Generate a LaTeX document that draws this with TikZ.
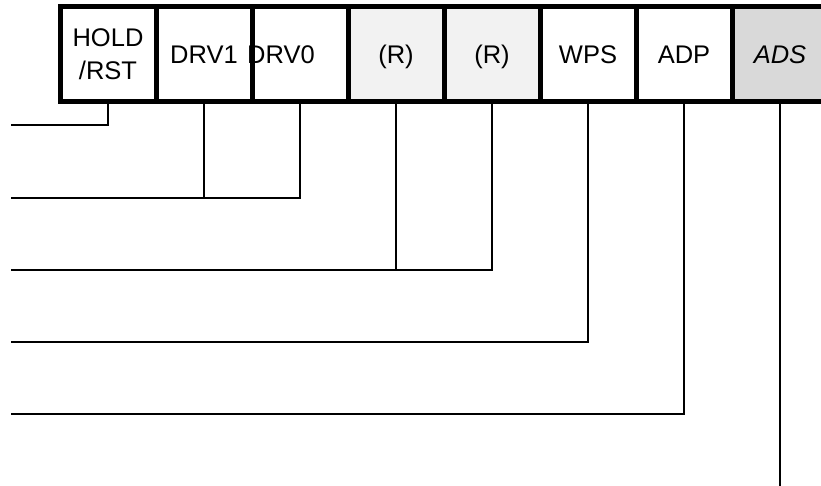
\documentclass[tikz,border=0pt]{standalone}
\usepackage{fontspec}
\setmainfont{Liberation Sans}
\definecolor{resgray}{HTML}{F2F2F2}
\definecolor{adsgray}{HTML}{D9D9D9}
\newcommand{\nodepth}[1]{\raisebox{0pt}[\height][0pt]{#1}}
\begin{document}
\begin{tikzpicture}[x=1pt,y=-1pt,
  field/.style={draw=black, line width=5pt, minimum width=96pt, minimum height=95pt,
    inner sep=0pt, font=\fontsize{25.5}{33}\selectfont, align=center, fill=white},
  res/.style={field, fill=resgray},
  ads/.style={field, fill=adsgray, font=\fontsize{25.5}{33}\selectfont\itshape},
  wire/.style={line width=2.7pt}]
\useasboundingbox (0,0) rectangle (821,486);
\clip (0,0) rectangle (821,486);
\node[field] (hold) at (108,54.5) {HOLD\\/RST};
\node[field] (drv1) at (204,54.5) {DRV1};
\node[field] (drv0) at (300,54.5) {\hspace*{-38pt}DRV0};
\node[res]   (r1)   at (396,54.5) {\nodepth{(R)}};
\node[res]   (r0)   at (492,54.5) {\nodepth{(R)}};
\node[field] (wps)  at (588,54.5) {WPS};
\node[field] (adp)  at (684,54.5) {ADP};
\node[ads]   (ads)  at (780,54.5) {ADS};
\coordinate (e1) at (11,125);
\coordinate (e2) at (11,198);
\coordinate (e3) at (11,270);
\coordinate (e4) at (11,342);
\coordinate (e5) at (11,414);
\coordinate (e6) at (780,486);
\draw[wire] (hold.south) |- (e1);
\draw[wire] (drv0.south) |- (e2);
\draw[wire] (drv1.south) -- (drv1.south |- e2);
\draw[wire] (r0.south) |- (e3);
\draw[wire] (r1.south) -- (r1.south |- e3);
\draw[wire] (wps.south) |- (e4);
\draw[wire] (adp.south) |- (e5);
\draw[wire] (ads.south) -- (e6);
\end{tikzpicture}
\end{document}
